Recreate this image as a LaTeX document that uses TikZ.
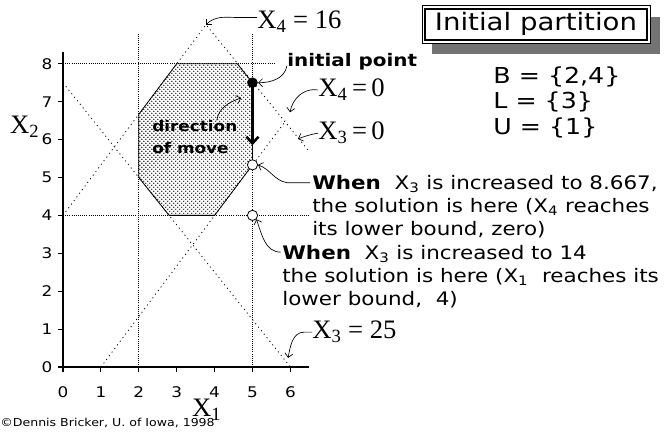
\documentclass[tikz,border=0pt]{standalone}
\usepackage{fontspec}
\setmainfont{Liberation Serif}
\newfontfamily\geneva[FakeStretch=1.15]{DejaVu Sans}
\usetikzlibrary{arrows.meta, patterns}

\begin{document}
\begin{tikzpicture}[
                x=1cm, y=1cm,
                every node/.style={inner sep=0pt},
                bound/.style={line width=0.6pt, dash pattern=on 0.8pt off 2.6pt},
                limit/.style={line width=0.45pt, dash pattern=on 0.5pt off 1.1pt},
                region/.style={draw, line width=0.6pt, pattern=crosshatch dots, pattern color=black},
                pointer/.style={line width=0.5pt, -{Straight Barb[length=3pt,width=6pt]}},
                move/.style={line width=1.9pt, -{Straight Barb[length=5pt,width=9pt]}},
                eqn/.style={font=\fontsize{20}{22}\selectfont, anchor=west},
                note/.style={font=\geneva\fontsize{14}{17.25}\selectfont, align=left, anchor=north west},
                ticklbl/.style={font=\geneva\fontsize{11}{13}\selectfont},
                soln/.style={circle, draw, fill=white, minimum size=0.27cm, line width=0.6pt}
            ]
                \useasboundingbox (-1.662,-1.741) rectangle (16.042,9.683);

                % feasible region
                \draw[region] (2.8,4) -- (2,5) -- (2,20/3) -- (3,8) -- (4.6,8) -- (5,7.5) -- (5,16/3) -- (4,4) -- cycle;

                % bounds on X1, X2
                \draw[limit] (2,0) -- (2,8.8);
                \draw[limit] (5,0) -- (5,8.8);
                \draw[limit] (0,8) -- (5.6,8);
                \draw[limit] (0,4) -- (6.5,4);

                % bounds on X3, X4
                \coordinate (apex) at (3.774,9.032);
                \draw[bound] (0,4) -- (apex) -- (6.46,5.73);
                \draw[bound] (1,0) -- (5.88,6.5);
                \draw[bound] (0,7.5) -- (6,0);

                % axes
                \draw[line width=1.1pt] (0,8.3) -- (0,0) -- (6.5,0);
                \foreach \i in {0,...,6} {
                    \draw[line width=0.8pt] (\i,0) -- (\i,-0.13);
                    \node[ticklbl] at (\i,-0.66) {\i};
                }
                \foreach \j in {0,...,8} {
                    \draw[line width=0.8pt] (0,\j) -- (-0.13,\j);
                    \node[ticklbl] at (-0.42,\j) {\j};
                }
                \node[eqn] (x2lbl) at (-1.40,6.33) {X\textsubscript{2}};
                \node[eqn] (x1lbl) at (3.40,-1.13) {X\textsubscript{1}};

                % solutions
                \coordinate (movetip) at (5,5.85);
                \node[circle, fill=black, minimum size=0.28cm] (start) at (5,7.5) {};
                \draw[move] (start.center) -- (movetip);
                \node[soln] (sol1) at (5,16/3) {};
                \node[soln] (sol2) at (5,4) {};

                % labels
                \coordinate (c4) at (5.99,6.72);
                \coordinate (c3) at (6.20,6.02);
                \coordinate (c25) at (5.94,0.24);
                \coordinate (dirtip) at (4.70,7.10);
                \node[eqn] (x4top) at (5.12,9.10) {X\textsubscript{4} = 16};
                \node[eqn] (x4zero) at (6.73,7.31) {X\textsubscript{4}\,=\,0};
                \node[eqn] (x3zero) at (6.73,6.17) {X\textsubscript{3}\,=\,0};
                \node[eqn] (x3top) at (6.57,0.92) {X\textsubscript{3} = 25};
                \node[font=\geneva\bfseries\fontsize{13}{15}\selectfont, anchor=west] (initlbl) at (5.91,8.05) {initial point};
                \node[font=\geneva\bfseries\fontsize{11}{16}\selectfont, align=left, anchor=west] (dirlbl) at (2.35,6.07) {direction\\of move};
                \node[note] (when1) at (6.57,5.07) {\textbf{When}\ \ X\textsubscript{3} is increased to 8.667,\\the solution is here (X\textsubscript{4} reaches\\its lower bound, zero)};
                \node[note] (when2) at (5.78,3.22) {\textbf{When}\ \ X\textsubscript{3} is increased to 14\\the solution is here (X\textsubscript{1}\ \ reaches its\\lower bound,\ \ 4)};

                \draw[pointer] ([yshift=0.12cm]x4top.west) -- ++(-0.45,0) to[out=180,in=45] (apex);
                \draw[pointer] ([yshift=-0.1cm]initlbl.west) to[out=-100,in=0] (start.east);
                \draw[pointer] (x4zero.west) to[out=170,in=80] (c4);
                \draw[pointer] (x3zero.west) to[out=190,in=20] (c3);
                \draw[pointer] (x3top.west) -- ++(-0.2,0) to[out=180,in=80] (c25);
                \draw[pointer] ([xshift=-0.55cm]dirlbl.north east) to[out=80,in=200] (dirtip);
                \draw[pointer] ([shift={(-0.05,-0.21)}]when1.north west) -- ++(-0.6,0) to[out=170,in=-20] (sol1.east);
                \draw[pointer] ([shift={(-0.03,-0.19)}]when2.north west) to[out=180,in=-70] (sol2.south east);

                % partition
                \fill[black!55] (9.73,8.25) rectangle (15.75,9.225);
                \node[draw, fill=white, line width=0.6pt, minimum width=6.02cm, minimum height=0.98cm,
                      font=\geneva\fontsize{18}{20}\selectfont] (part) at (12.48,9.04) {Initial partition};
                \draw[line width=1.4pt] ([shift={(0.09,0.09)}]part.south west) rectangle ([shift={(-0.09,-0.09)}]part.north east);
                \node[font=\geneva\fontsize{16.5}{19.5}\selectfont, align=left, anchor=north west] (sets) at (11.35,7.94)
                    {B = \{2,4\}\\L = \{3\}\\U = \{1\}};

                \node[font=\geneva\fontsize{8.2}{10}\selectfont, anchor=west] (credit) at (-1.66,-1.48) {©Dennis Bricker, U. of Iowa, 1998};
            \end{tikzpicture}
\end{document}
